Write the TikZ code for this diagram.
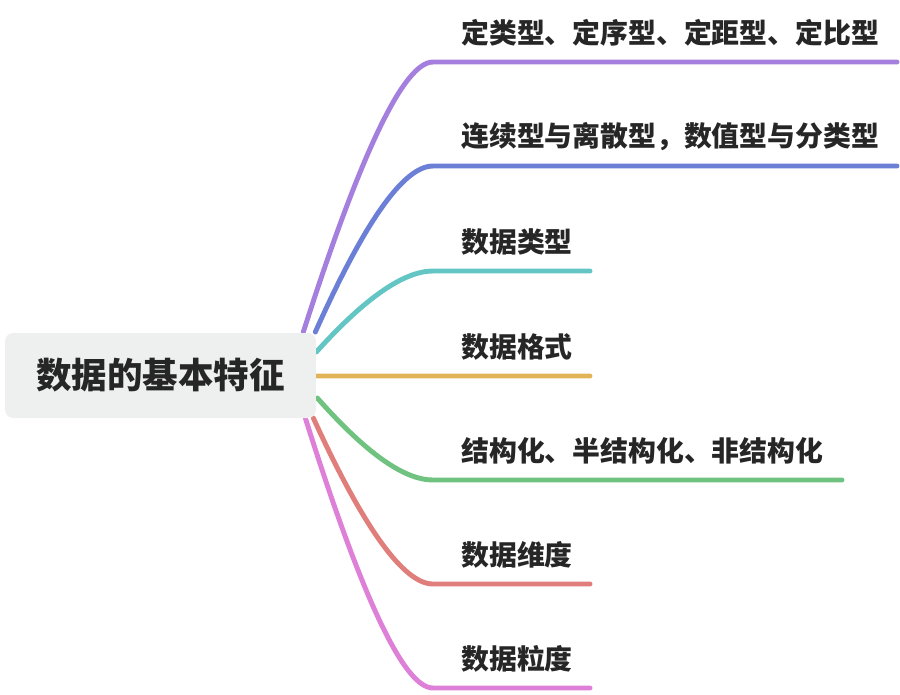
\documentclass[tikz,border=0pt]{standalone}
\usepackage{fontspec}
\setmainfont{Noto Sans CJK SC}
\usetikzlibrary{calc, backgrounds}
\definecolor{ink}{HTML}{262626}
\definecolor{rootfill}{HTML}{EEF0F0}
\definecolor{mmpurple}{HTML}{A47FDD}
\definecolor{mmblue}{HTML}{6B7FD7}
\definecolor{mmteal}{HTML}{63C5C4}
\definecolor{mmyellow}{HTML}{E2B45A}
\definecolor{mmgreen}{HTML}{6FC27F}
\definecolor{mmred}{HTML}{E07E7B}
\definecolor{mmpink}{HTML}{DE7FD8}
\tikzstyle{topic} = [rectangle, rounded corners=0.16cm, minimum width=6.22cm, minimum height=1.7cm, fill=rootfill, text=ink, font=\bfseries\fontsize{20.2}{24}\selectfont]
\tikzstyle{leaf} = [anchor=west, inner sep=0pt, text=ink, font=\bfseries\fontsize{15.85}{19}\selectfont]
\tikzstyle{branch} = [line width=2.8pt, line cap=round]

\begin{document}
\begin{tikzpicture}[x=0.02cm, y=-0.02cm]
  \useasboundingbox (0,0) rectangle (900,694);
  \node[topic] (root) at (160.5,375.5) {数据的基本特征};

  % subtopics
  \node[leaf] (t1) at (461,33) {定类型、定序型、定距型、定比型};
  \node[leaf] (t2) at (461,137) {连续型与离散型，数值型与分类型};
  \node[leaf] (t3) at (461,242) {数据类型};
  \node[leaf] (t4) at (461,347) {数据格式};
  \node[leaf] (t5) at (461,451) {结构化、半结构化、非结构化};
  \node[leaf] (t6) at (461,555) {数据维度};
  \node[leaf] (t7) at (461,659) {数据粒度};

  \coordinate (k1) at (433,62);  \coordinate (e1) at (897,62);
  \coordinate (k2) at (433,166); \coordinate (e2) at (897,166);
  \coordinate (k3) at (433,271); \coordinate (e3) at (590,271);
  \coordinate (e4) at (590,376);
  \coordinate (k5) at (433,480); \coordinate (e5) at (842,480);
  \coordinate (k6) at (433,584); \coordinate (e6) at (590,584);
  \coordinate (k7) at (433,688); \coordinate (e7) at (590,688);

  \begin{scope}[on background layer]
    \draw[branch, mmpurple] ($(root.east)+(-13,-43.5)$) .. controls (361,152) and (404,62) .. (k1) -- (e1);
    \draw[branch, mmblue] ($(root.east)+(-1,-43.5)$) .. controls (365,221) and (404,166) .. (k2) -- (e2);
    \draw[branch, mmteal] ($(root.east)+(0,-23.5)$) .. controls (365,298) and (404,271) .. (k3) -- (e3);
    \draw[branch, mmyellow] ($(root.east)+(0,0.5)$) -- (e4);
    \draw[branch, mmgreen] ($(root.east)+(1,22.5)$) .. controls (366,453) and (404,480) .. (k5) -- (e5);
    \draw[branch, mmred] ($(root.east)+(-3,42.5)$) .. controls (364,529) and (404,584) .. (k6) -- (e6);
    \draw[branch, mmpink] ($(root.east)+(-11,42.5)$) .. controls (362,598) and (404,688) .. (k7) -- (e7);
  \end{scope}
\end{tikzpicture}
\end{document}
